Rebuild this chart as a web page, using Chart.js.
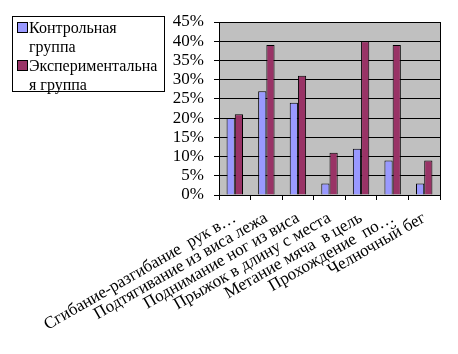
<!DOCTYPE html>
<html>
<head>
<meta charset="utf-8">
<script src="https://cdn.jsdelivr.net/npm/chart.js@4"></script>
<style>
  body { margin: 0; background: #fff; }
  #wrap { position: relative; width: 458px; height: 354px; }
  #legend {
    position: absolute; left: 12px; top: 16px; width: 153px; height: 76px;
    border: 1px solid #000; background: #fff;
    font-family: 'Liberation Serif', 'DejaVu Serif', serif; font-size: 16px; line-height: 19px;
    box-sizing: border-box; padding-top: 1px;
  }
  .item { position: relative; padding-left: 16px; }
  .sw { position: absolute; left: 4px; top: 4px; width: 9px; height: 9px; border: 1px solid #000; }
</style>
</head>
<body>
<div id="wrap">
  <canvas id="chart" width="458" height="354"></canvas>
  <div id="legend"></div>
</div>
<script>
  // категории и значения (%)
  var categories = [
    'Сгибание-разгибание  рук в…',
    'Подтягивание из виса лежа',
    'Поднимание ног из виса',
    'Прыжок в длину с места',
    'Метание мяча  в цель',
    'Прохождение  по…',
    'Челночный бег'
  ];
  var seriesNames = ['Контрольная группа', 'Экспериментальная группа'];
  var legendLines = [['Контрольная', 'группа'], ['Экспериментальна', 'я группа']];
  var controlValues = [20, 27, 24, 3, 12, 9, 3];
  var experimentValues = [21, 39, 31, 11, 40, 39, 9];
  var seriesColors = ['#9999ff', '#993366'];

  // легенда
  var legend = document.getElementById('legend');
  legendLines.forEach(function (lines, i) {
    var d = document.createElement('div');
    d.className = 'item';
    d.innerHTML = '<span class="sw" style="background:' + seriesColors[i] + '"></span>' + lines.join('<br>');
    legend.appendChild(d);
  });

  var plotBg = {
    id: 'plotBg',
    beforeDraw: function (chart) {
      var a = chart.chartArea, c = chart.ctx;
      c.save();
      c.fillStyle = '#c0c0c0';
      c.fillRect(a.left, a.top, a.right - a.left, a.bottom - a.top);
      c.restore();
    },
    afterDraw: function (chart) {
      var a = chart.chartArea, c = chart.ctx;
      c.save();
      c.strokeStyle = '#000';
      c.lineWidth = 1;
      c.beginPath();
      c.moveTo(Math.round(a.right) + 0.5, a.top);
      c.lineTo(Math.round(a.right) + 0.5, a.bottom);
      c.stroke();
      c.restore();
    }
  };

  var family = "'Liberation Serif', 'DejaVu Serif', serif";

  new Chart(document.getElementById('chart').getContext('2d'), {
    type: 'bar',
    data: {
      labels: categories,
      datasets: [{
        label: seriesNames[0],
        data: controlValues,
        backgroundColor: seriesColors[0],
        borderColor: '#000',
        borderWidth: 1,
        borderSkipped: 'bottom'
      }, {
        label: seriesNames[1],
        data: experimentValues,
        backgroundColor: seriesColors[1],
        borderColor: '#000',
        borderWidth: 1,
        borderSkipped: 'bottom'
      }]
    },
    options: {
      responsive: false,
      animation: false,
      layout: { padding: { left: 159, top: 22, right: 18, bottom: 0 } },
      plugins: { legend: { display: false }, tooltip: { enabled: false } },
      datasets: { bar: { categoryPercentage: 0.52, barPercentage: 1 } },
      scales: {
        x: {
          grid: { offset: true, drawOnChartArea: false, drawTicks: true, tickLength: 5, color: '#000' },
          border: { color: '#000' },
          ticks: { color: '#000', font: { family: family, size: 17 }, minRotation: 30, maxRotation: 30,
            autoSkip: false, padding: 8 },
          afterFit: function (s) { s.height = 159; s.paddingLeft = 0; s.paddingRight = 0; }
        },
        y: {
          min: 0, max: 45,
          grid: { color: '#000', tickLength: 5 },
          border: { color: '#000' },
          ticks: { stepSize: 5, autoSkip: false, color: '#000', font: { family: family, size: 17 }, padding: 10,
            callback: function (v) { return v + '%'; } },
          afterFit: function (s) { s.width = 60; s.paddingTop = 0; s.paddingBottom = 0; }
        }
      }
    },
    plugins: [plotBg]
  });
</script>
</body>
</html>
